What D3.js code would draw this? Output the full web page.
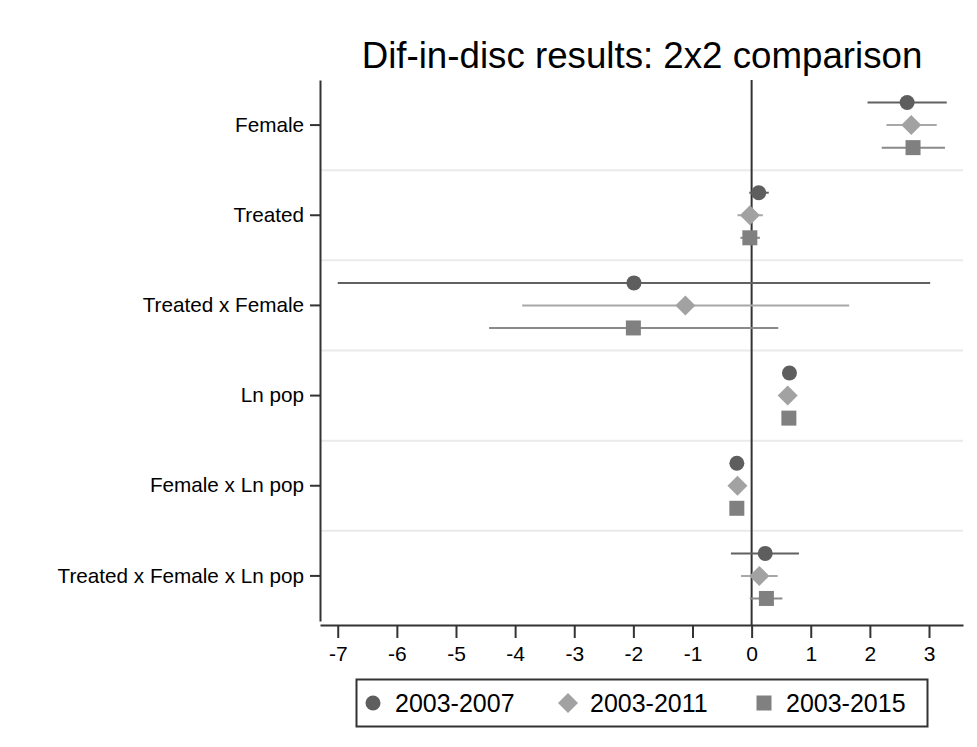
<!DOCTYPE html>
<html>
<head>
<meta charset="utf-8">
<script src="https://cdn.jsdelivr.net/npm/d3@7"></script>
<style>
  body { margin: 0; background: #fff; }
  text { font-family: "Liberation Sans", Arial, sans-serif; fill: #000; }
</style>
</head>
<body>
<div id="chart"></div>
<script>
const categories = ['Female', 'Treated', 'Treated x Female', 'Ln pop', 'Female x Ln pop', 'Treated x Female x Ln pop']
const seriesNames = ['2003-2007', '2003-2011', '2003-2015']
const xTicks = [-7, -6, -5, -4, -3, -2, -1, 0, 1, 2, 3]

// point estimate, lower and upper bound per category
const est0307 = [2.63, 0.12, -1.99, 0.64, -0.25, 0.23]
const lo0307 = [1.96, -0.04, -7.0, 0.60, -0.29, -0.35]
const hi0307 = [3.30, 0.29, 3.02, 0.68, -0.21, 0.80]

const est0311 = [2.70, -0.03, -1.12, 0.61, -0.24, 0.13]
const lo0311 = [2.28, -0.24, -3.88, 0.57, -0.28, -0.18]
const hi0311 = [3.13, 0.19, 1.65, 0.65, -0.20, 0.44]

const est0315 = [2.73, -0.03, -2.0, 0.63, -0.25, 0.25]
const lo0315 = [2.20, -0.19, -4.44, 0.59, -0.29, -0.03]
const hi0315 = [3.27, 0.14, 0.45, 0.67, -0.21, 0.52]

const width = 977
const height = 747
const plot = { left: 320, right: 963, top: 80, bottom: 625 }

const svg = d3.select('#chart').append('svg')
  .attr('width', width)
  .attr('height', height)

const x = d3.scaleLinear().domain([-7.3, 3.575]).range([plot.left, plot.right])
const y = d3.scaleBand().domain(categories).range([plot.top, 621])
const offset = d3.scalePoint().domain(seriesNames).range([-0.25, 0.25])

const series = [
  { name: seriesNames[0], est: est0307, lo: lo0307, hi: hi0307, shape: 'circle', fill: '#5e5e5e', line: '#616161' },
  { name: seriesNames[1], est: est0311, lo: lo0311, hi: hi0311, shape: 'diamond', fill: '#a2a2a2', line: '#a8a8a8' },
  { name: seriesNames[2], est: est0315, lo: lo0315, hi: hi0315, shape: 'square', fill: '#808080', line: '#8a8a8a' }
]

function marker(sel, shape, fill) {
  if (shape === 'circle') {
    sel.append('circle').attr('r', 7.5).style('fill', fill)
  } else if (shape === 'diamond') {
    sel.append('path').attr('d', 'M0,-10L10,0L0,10L-10,0Z').style('fill', fill)
  } else {
    sel.append('rect').attr('x', -7.5).attr('y', -7.5).attr('width', 15).attr('height', 15).style('fill', fill)
  }
}

// title
svg.append('text')
  .attr('x', 642)
  .attr('y', 68)
  .attr('text-anchor', 'middle')
  .style('font-size', '36.7px')
  .text('Dif-in-disc results: 2x2 comparison')

// gridlines between categories
svg.append('g')
  .selectAll('line')
  .data(categories.slice(1))
  .join('line')
  .attr('x1', plot.left)
  .attr('x2', plot.right)
  .attr('y1', d => y(d))
  .attr('y2', d => y(d))
  .style('stroke', '#eaeaea')
  .style('stroke-width', 2)

// zero line
svg.append('line')
  .attr('x1', x(0)).attr('x2', x(0))
  .attr('y1', plot.top).attr('y2', plot.bottom)
  .style('stroke', '#333')
  .style('stroke-width', 2)

// x axis
const xAxis = svg.append('g')
  .attr('transform', `translate(0, ${plot.bottom})`)
  .call(d3.axisBottom(x).tickValues(xTicks).tickFormat(d3.format('d')).tickSize(13).tickSizeOuter(0).tickPadding(8))
xAxis.select('.domain').style('stroke', '#333').style('stroke-width', 2)
xAxis.selectAll('.tick line').style('stroke', '#333').style('stroke-width', 2)
xAxis.selectAll('.tick text').style('font-size', '21px').style('fill', '#000')
  .text(d => d < 0 ? '-' + Math.abs(d) : d)

// y axis
const yAxis = svg.append('g')
  .attr('transform', `translate(${plot.left}, 0)`)
  .call(d3.axisLeft(y).tickSize(10).tickSizeOuter(0).tickPadding(6))
yAxis.select('.domain').style('stroke', '#333').style('stroke-width', 2)
yAxis.selectAll('.tick line').style('stroke', '#333').style('stroke-width', 2)
yAxis.selectAll('.tick text').style('font-size', '20.7px').style('fill', '#000')

// confidence intervals and estimates
series.forEach(s => {
  const g = svg.append('g')
  const yy = (d, i) => y(categories[i]) + y.bandwidth() / 2 + offset(s.name) * y.bandwidth()
  g.selectAll('line')
    .data(s.est)
    .join('line')
    .attr('x1', (d, i) => x(s.lo[i]))
    .attr('x2', (d, i) => x(s.hi[i]))
    .attr('y1', yy)
    .attr('y2', yy)
    .style('stroke', s.line)
    .style('stroke-width', 2)
  g.selectAll('g')
    .data(s.est)
    .join('g')
    .attr('transform', (d, i) => `translate(${x(d)}, ${yy(d, i)})`)
    .each(function() { marker(d3.select(this), s.shape, s.fill) })
})

// legend
const legend = svg.append('g')
legend.append('rect')
  .attr('x', 356.5).attr('y', 679.5)
  .attr('width', 571).attr('height', 47)
  .style('fill', '#fff')
  .style('stroke', '#333')
  .style('stroke-width', 2)
const legendX = [373, 568, 764]
series.forEach((s, i) => {
  const item = legend.append('g').attr('transform', `translate(${legendX[i]}, 703)`)
  marker(item, s.shape, s.fill)
  item.append('text')
    .attr('x', 22)
    .attr('y', 9)
    .style('font-size', '25px')
    .text(s.name)
})
</script>
</body>
</html>
